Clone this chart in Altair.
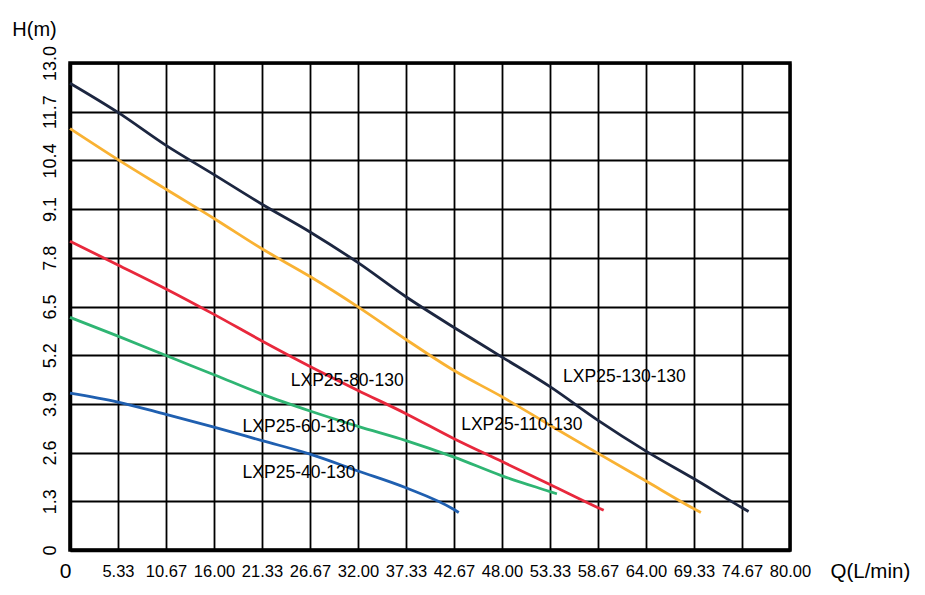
import altair as alt
import pandas as pd

# pump curves (Q in L/min, H in m)
q_40 = [0, 5.33, 10.67, 16.0, 21.33, 26.67, 32.0, 37.33, 42.67, 43.2]
h_40 = [4.19, 3.95, 3.62, 3.28, 2.92, 2.56, 2.11, 1.66, 1.08, 1.0]

q_60 = [0, 5.33, 10.67, 16.0, 21.33, 26.67, 32.0, 37.33, 42.67, 48.0, 53.33, 54.1]
h_60 = [6.21, 5.71, 5.19, 4.68, 4.16, 3.71, 3.30, 2.92, 2.48, 1.98, 1.56, 1.50]

q_80 = [0, 5.33, 10.67, 16.0, 21.33, 26.67, 32.0, 37.33, 42.67, 48.0, 53.33, 58.67, 59.3]
h_80 = [8.24, 7.61, 6.97, 6.29, 5.58, 4.90, 4.26, 3.64, 2.97, 2.36, 1.75, 1.13, 1.06]

q_110 = [0, 5.33, 10.67, 16.0, 21.33, 26.67, 32.0, 37.33, 42.67, 48.0, 53.33, 58.67, 64.0, 69.33, 70.1]
h_110 = [11.25, 10.42, 9.63, 8.85, 8.04, 7.30, 6.49, 5.62, 4.79, 4.09, 3.33, 2.58, 1.84, 1.10, 1.0]

q_130 = [0, 5.33, 10.67, 16.0, 21.33, 26.67, 32.0, 37.33, 42.67, 48.0, 53.33, 58.67, 64.0, 69.33, 74.67, 75.4]
h_130 = [12.46, 11.68, 10.80, 10.02, 9.23, 8.49, 7.67, 6.76, 5.94, 5.15, 4.36, 3.46, 2.64, 1.90, 1.13, 1.03]

models = ['LXP25-40-130', 'LXP25-60-130', 'LXP25-80-130', 'LXP25-110-130', 'LXP25-130-130']
colors = ['#1f5fb0', '#2fb573', '#e8283c', '#f9b233', '#1c2640']

# where the model names sit
label_q = [25.45, 25.45, 30.8, 50.2, 61.6]
label_h = [2.05, 3.29, 4.52, 3.34, 4.61]

x_ticks = [0, 5.333, 10.667, 16, 21.333, 26.667, 32, 37.333, 42.667, 48, 53.333, 58.667, 64, 69.333, 74.667, 80]
y_ticks = [0, 1.3, 2.6, 3.9, 5.2, 6.5, 7.8, 9.1, 10.4, 11.7, 13.0]

FONT = 'Liberation Sans'

rows = []
for m, qs, hs in zip(models, [q_40, q_60, q_80, q_110, q_130], [h_40, h_60, h_80, h_110, h_130]):
    for q, h in zip(qs, hs):
        rows.append({'model': m, 'Q': q, 'H': h})
curves = pd.DataFrame(rows)
labels = pd.DataFrame({'model': models, 'Q': label_q, 'H': label_h})

x_axis = alt.Axis(
    values=x_ticks,
    labelExpr="datum.value == 0 ? '0' : format(datum.value, '.2f')",
    labelFont=FONT,
    labelFontSize={'condition': {'test': 'datum.value == 0', 'value': 21}, 'value': 16.5},
    labelOffset={'condition': {'test': 'datum.value == 0', 'value': -5}, 'value': 0},
    labelPadding={'condition': {'test': 'datum.value == 0', 'value': 10}, 'value': 13},
    labelColor='black',
    labelBaseline='top',
    labelFlush=False,
    labelOverlap=False,
    ticks=False, tickSize=0,
    grid=True, gridColor='black', gridWidth=1.8, gridOpacity=1,
    domain=True, domainColor='black', domainWidth=3.5,
    title='Q(L/min)', titleFont=FONT, titleFontSize=20.5, titleFontWeight='normal',
    titleColor='black', titleAlign='left', titleBaseline='alphabetic',
    titleX=760, titleY=27,
)
y_axis = alt.Axis(
    values=y_ticks,
    labelExpr="datum.value == 0 ? '0' : format(datum.value, '.1f')",
    labelFont=FONT, labelFontSize=18, labelColor='black',
    labelAngle=270, labelAlign='center', labelBaseline='alphabetic',
    labelPadding=15, labelFlush=False, labelOverlap=False,
    ticks=False, tickSize=0,
    grid=True, gridColor='black', gridWidth=1.8, gridOpacity=1,
    domain=True, domainColor='black', domainWidth=3.5,
    title='H(m)', titleFont=FONT, titleFontSize=20, titleFontWeight='normal',
    titleColor='black', titleAngle=0, titleAlign='center', titleBaseline='alphabetic',
    titleX=-36, titleY=-28,
)

xs = alt.Scale(domain=[0, 80], nice=False, zero=False)
ys = alt.Scale(domain=[0, 13], nice=False, zero=False)

lines = alt.Chart(curves).mark_line(strokeWidth=2.8, interpolate='monotone').encode(
    x=alt.X('Q:Q', scale=xs, axis=x_axis),
    y=alt.Y('H:Q', scale=ys, axis=y_axis),
    color=alt.Color('model:N', scale=alt.Scale(domain=models, range=colors), legend=None),
    detail='model:N',
)

names = alt.Chart(labels).mark_text(
    font=FONT, fontSize=17.5, color='black', align='center', baseline='middle'
).encode(
    x=alt.X('Q:Q', scale=xs),
    y=alt.Y('H:Q', scale=ys),
    text='model:N',
)

chart = (lines + names).properties(
    width=720, height=487,
    autosize=alt.AutoSizeParams(type='none'),
    padding={'left': 62, 'top': 55, 'right': 125, 'bottom': 40},
    background='white',
).configure_view(stroke='black', strokeWidth=3.5)

chart.save("out.html", embed_options={"renderer": "svg", "actions": False})
